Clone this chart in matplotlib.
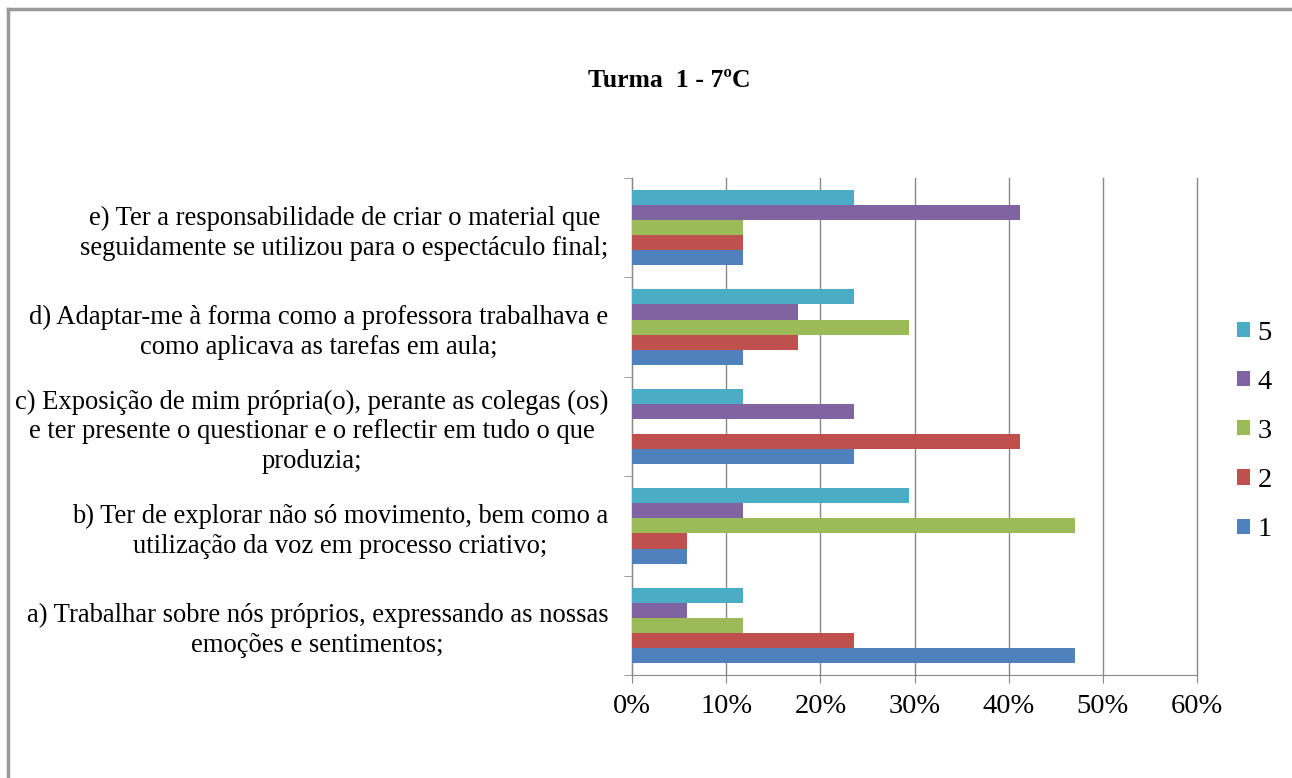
import numpy as np
import matplotlib.pyplot as plt
from matplotlib.lines import Line2D
from matplotlib.ticker import PercentFormatter

plt.rcParams['font.family'] = ['Liberation Serif', 'DejaVu Serif']

# categorias (de baixo para cima)
categorias = [
    "a) Trabalhar sobre nós próprios, expressando as nossas\nemoções e sentimentos;",
    "b) Ter de explorar não só movimento, bem como a\nutilização da voz em processo criativo;",
    "c) Exposição de mim própria(o), perante as colegas (os)\ne ter presente o questionar e o reflectir em tudo o que\nproduzia;",
    "d) Adaptar-me à forma como a professora trabalhava e\ncomo aplicava as tarefas em aula;",
    "e) Ter a responsabilidade de criar o material que\nseguidamente se utilizou para o espectáculo final;",
]
series = ['1', '2', '3', '4', '5']
cores = ['#4F81BD', '#C0504D', '#9BBB59', '#8064A2', '#4BACC6']

# valores em fração (a, b, c, d, e)
v1 = [0.4706, 0.0588, 0.2353, 0.1176, 0.1176]
v2 = [0.2353, 0.0588, 0.4118, 0.1765, 0.1176]
v3 = [0.1176, 0.4706, 0.0, 0.2941, 0.1176]
v4 = [0.0588, 0.1176, 0.2353, 0.1765, 0.4118]
v5 = [0.1176, 0.2941, 0.1176, 0.2353, 0.2353]
valores = [v1, v2, v3, v4, v5]

fig = plt.figure(figsize=(12.92, 7.78), dpi=100)
ax = fig.add_axes([0.4892, 0.1324, 0.4373, 0.6388])

y = np.arange(len(categorias))
h = 0.152
for i, (s, v) in enumerate(zip(series, valores)):
    ax.barh(y + (i - 2) * h, v, height=h, color=cores[i], label=s, zorder=3)

ax.set_xlim(0, 0.6)
ax.set_ylim(-0.5, 4.5)
ax.xaxis.set_major_formatter(PercentFormatter(1.0, decimals=0))
ax.set_xticks(np.arange(0, 0.61, 0.1))
ax.grid(axis='x', color='#888888', linewidth=1.0, zorder=0)
for gl in ax.get_xgridlines():
    gl.set_clip_on(False)

ax.set_yticks(y)
ax.set_yticklabels(categorias, multialignment='center', fontsize=19.2,
                   linespacing=1.25)
ax.set_yticks(np.arange(-0.5, 4.6, 1), minor=True)
ax.tick_params(axis='y', which='major', length=0, pad=17)
ax.tick_params(axis='y', which='minor', length=6, color='#888888')
ax.tick_params(axis='x', length=6, color='#888888', labelsize=20.5, pad=8)

for sp in ['top', 'right']:
    ax.spines[sp].set_visible(False)
for sp in ['left', 'bottom']:
    ax.spines[sp].set_color('#888888')

hnd, lab = ax.get_legend_handles_labels()
ax.legend(hnd[::-1], lab[::-1], loc='center left', bbox_to_anchor=(1.026, 0.49),
          frameon=False, fontsize=20.5, handlelength=0.45, handleheight=0.45,
          handletextpad=0.25, labelspacing=0.85)

fig.text(0.5178, 0.896, 'Turma  1 - 7ºC', ha='center', va='center',
         fontsize=18.5, fontweight='bold')

# moldura
fig.add_artist(Line2D([0.0062, 1.0], [0.9884, 0.9884], color='#999999', lw=2.5))
fig.add_artist(Line2D([0.0062, 0.0062], [0.0, 0.9884], color='#999999', lw=2.5))

fig.savefig('out.png', dpi=100, facecolor='white')
